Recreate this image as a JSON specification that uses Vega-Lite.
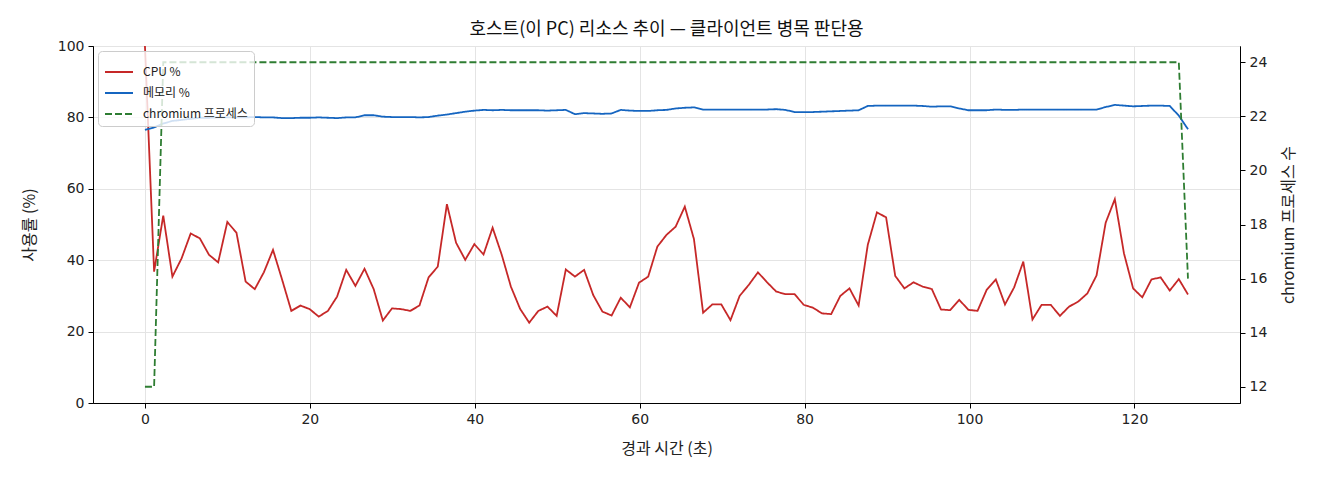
{
  "$schema": "https://vega.github.io/schema/vega-lite/v6.json",
  "description": "호스트 리소스 추이: CPU, 메모리, chromium 프로세스 수",
  "autosize": {"type": "none"},
  "width": 1147,
  "height": 357,
  "padding": {"left": 93, "top": 46, "right": 80, "bottom": 77},
  "background": "white",
  "view": {"stroke": "black", "strokeWidth": 1},
  "title": {
    "text": "호스트(이 PC) 리소스 추이 — 클라이언트 병목 판단용",
    "fontSize": 18,
    "fontWeight": "normal",
    "font": "Noto Sans CJK KR",
    "color": "#111",
    "anchor": "middle",
    "offset": 0
  },
  "config": {
    "view": {"stroke": "black", "strokeWidth": 1},
    "axis": {
      "labelFont": "DejaVu Sans",
      "labelFontSize": 14,
      "labelColor": "#222",
      "titleFont": "Noto Sans CJK KR",
      "titleFontSize": 16,
      "titleFontWeight": "normal",
      "titleColor": "#222",
      "domainColor": "black",
      "tickColor": "black",
      "tickSize": 5,
      "gridColor": "#e4e4e4",
      "gridWidth": 1
    },
    "legend": {
      "orient": "top-left",
      "offset": 5,
      "title": null,
      "labelFont": "Noto Sans CJK KR",
      "labelFontSize": 12,
      "labelColor": "#222",
      "labelOffset": 9,
      "fillColor": "rgba(255,255,255,0.8)",
      "strokeColor": "#cccccc",
      "cornerRadius": 4,
      "padding": 6,
      "rowPadding": -5,
      "symbolType": "stroke",
      "symbolSize": 784,
      "symbolStrokeWidth": 2
    }
  },
  "data": {
    "values": [
      {"t": 0, "CPU %": 100, "메모리 %": 76.5, "chromium 프로세스": 12},
      {"t": 1.11, "CPU %": 36.8, "메모리 %": 77.2, "chromium 프로세스": 12},
      {"t": 2.22, "CPU %": 52.5, "메모리 %": 78.3, "chromium 프로세스": 24},
      {"t": 3.33, "CPU %": 35.4, "메모리 %": 79.0, "chromium 프로세스": 24},
      {"t": 4.44, "CPU %": 40.5, "메모리 %": 79.3, "chromium 프로세스": 24},
      {"t": 5.55, "CPU %": 47.5, "메모리 %": 79.6, "chromium 프로세스": 24},
      {"t": 6.66, "CPU %": 46.1, "메모리 %": 79.9, "chromium 프로세스": 24},
      {"t": 7.77, "CPU %": 41.5, "메모리 %": 79.9, "chromium 프로세스": 24},
      {"t": 8.88, "CPU %": 39.4, "메모리 %": 80.0, "chromium 프로세스": 24},
      {"t": 9.99, "CPU %": 50.7, "메모리 %": 80.0, "chromium 프로세스": 24},
      {"t": 11.10, "CPU %": 47.7, "메모리 %": 80.0, "chromium 프로세스": 24},
      {"t": 12.21, "CPU %": 34.0, "메모리 %": 80.0, "chromium 프로세스": 24},
      {"t": 13.32, "CPU %": 31.9, "메모리 %": 80.1, "chromium 프로세스": 24},
      {"t": 14.42, "CPU %": 36.6, "메모리 %": 80.0, "chromium 프로세스": 24},
      {"t": 15.53, "CPU %": 42.9, "메모리 %": 80.0, "chromium 프로세스": 24},
      {"t": 16.64, "CPU %": 34.5, "메모리 %": 79.8, "chromium 프로세스": 24},
      {"t": 17.75, "CPU %": 25.8, "메모리 %": 79.8, "chromium 프로세스": 24},
      {"t": 18.86, "CPU %": 27.3, "메모리 %": 79.9, "chromium 프로세스": 24},
      {"t": 19.97, "CPU %": 26.3, "메모리 %": 79.9, "chromium 프로세스": 24},
      {"t": 21.08, "CPU %": 24.2, "메모리 %": 80.0, "chromium 프로세스": 24},
      {"t": 22.19, "CPU %": 25.8, "메모리 %": 79.9, "chromium 프로세스": 24},
      {"t": 23.30, "CPU %": 29.8, "메모리 %": 79.8, "chromium 프로세스": 24},
      {"t": 24.41, "CPU %": 37.3, "메모리 %": 80.0, "chromium 프로세스": 24},
      {"t": 25.52, "CPU %": 32.8, "메모리 %": 80.0, "chromium 프로세스": 24},
      {"t": 26.63, "CPU %": 37.6, "메모리 %": 80.6, "chromium 프로세스": 24},
      {"t": 27.74, "CPU %": 31.9, "메모리 %": 80.6, "chromium 프로세스": 24},
      {"t": 28.85, "CPU %": 23.1, "메모리 %": 80.2, "chromium 프로세스": 24},
      {"t": 29.96, "CPU %": 26.5, "메모리 %": 80.1, "chromium 프로세스": 24},
      {"t": 31.07, "CPU %": 26.3, "메모리 %": 80.1, "chromium 프로세스": 24},
      {"t": 32.18, "CPU %": 25.8, "메모리 %": 80.1, "chromium 프로세스": 24},
      {"t": 33.29, "CPU %": 27.3, "메모리 %": 80.0, "chromium 프로세스": 24},
      {"t": 34.40, "CPU %": 35.2, "메모리 %": 80.1, "chromium 프로세스": 24},
      {"t": 35.51, "CPU %": 38.2, "메모리 %": 80.5, "chromium 프로세스": 24},
      {"t": 36.62, "CPU %": 55.7, "메모리 %": 80.8, "chromium 프로세스": 24},
      {"t": 37.73, "CPU %": 44.9, "메모리 %": 81.2, "chromium 프로세스": 24},
      {"t": 38.84, "CPU %": 40.1, "메모리 %": 81.6, "chromium 프로세스": 24},
      {"t": 39.95, "CPU %": 44.5, "메모리 %": 81.9, "chromium 프로세스": 24},
      {"t": 41.06, "CPU %": 41.6, "메모리 %": 82.1, "chromium 프로세스": 24},
      {"t": 42.16, "CPU %": 49.1, "메모리 %": 82.0, "chromium 프로세스": 24},
      {"t": 43.27, "CPU %": 41.5, "메모리 %": 82.1, "chromium 프로세스": 24},
      {"t": 44.38, "CPU %": 32.6, "메모리 %": 82.0, "chromium 프로세스": 24},
      {"t": 45.49, "CPU %": 26.4, "메모리 %": 82.0, "chromium 프로세스": 24},
      {"t": 46.60, "CPU %": 22.5, "메모리 %": 82.0, "chromium 프로세스": 24},
      {"t": 47.71, "CPU %": 25.8, "메모리 %": 82.0, "chromium 프로세스": 24},
      {"t": 48.82, "CPU %": 27.0, "메모리 %": 81.9, "chromium 프로세스": 24},
      {"t": 49.93, "CPU %": 24.4, "메모리 %": 82.0, "chromium 프로세스": 24},
      {"t": 51.04, "CPU %": 37.4, "메모리 %": 82.1, "chromium 프로세스": 24},
      {"t": 52.15, "CPU %": 35.4, "메모리 %": 80.9, "chromium 프로세스": 24},
      {"t": 53.26, "CPU %": 37.3, "메모리 %": 81.2, "chromium 프로세스": 24},
      {"t": 54.37, "CPU %": 30.2, "메모리 %": 81.1, "chromium 프로세스": 24},
      {"t": 55.48, "CPU %": 25.6, "메모리 %": 81.0, "chromium 프로세스": 24},
      {"t": 56.59, "CPU %": 24.5, "메모리 %": 81.1, "chromium 프로세스": 24},
      {"t": 57.70, "CPU %": 29.5, "메모리 %": 82.1, "chromium 프로세스": 24},
      {"t": 58.81, "CPU %": 26.8, "메모리 %": 81.9, "chromium 프로세스": 24},
      {"t": 59.92, "CPU %": 33.7, "메모리 %": 81.8, "chromium 프로세스": 24},
      {"t": 61.03, "CPU %": 35.4, "메모리 %": 81.8, "chromium 프로세스": 24},
      {"t": 62.14, "CPU %": 43.8, "메모리 %": 82.0, "chromium 프로세스": 24},
      {"t": 63.25, "CPU %": 47.1, "메모리 %": 82.1, "chromium 프로세스": 24},
      {"t": 64.36, "CPU %": 49.4, "메모리 %": 82.5, "chromium 프로세스": 24},
      {"t": 65.47, "CPU %": 55.0, "메모리 %": 82.7, "chromium 프로세스": 24},
      {"t": 66.58, "CPU %": 45.9, "메모리 %": 82.8, "chromium 프로세스": 24},
      {"t": 67.69, "CPU %": 25.3, "메모리 %": 82.2, "chromium 프로세스": 24},
      {"t": 68.80, "CPU %": 27.6, "메모리 %": 82.2, "chromium 프로세스": 24},
      {"t": 69.90, "CPU %": 27.6, "메모리 %": 82.2, "chromium 프로세스": 24},
      {"t": 71.01, "CPU %": 23.2, "메모리 %": 82.2, "chromium 프로세스": 24},
      {"t": 72.12, "CPU %": 30.0, "메모리 %": 82.2, "chromium 프로세스": 24},
      {"t": 73.23, "CPU %": 33.1, "메모리 %": 82.2, "chromium 프로세스": 24},
      {"t": 74.34, "CPU %": 36.6, "메모리 %": 82.2, "chromium 프로세스": 24},
      {"t": 75.45, "CPU %": 33.8, "메모리 %": 82.2, "chromium 프로세스": 24},
      {"t": 76.56, "CPU %": 31.2, "메모리 %": 82.3, "chromium 프로세스": 24},
      {"t": 77.67, "CPU %": 30.5, "메모리 %": 82.1, "chromium 프로세스": 24},
      {"t": 78.78, "CPU %": 30.5, "메모리 %": 81.5, "chromium 프로세스": 24},
      {"t": 79.89, "CPU %": 27.5, "메모리 %": 81.5, "chromium 프로세스": 24},
      {"t": 81.00, "CPU %": 26.7, "메모리 %": 81.5, "chromium 프로세스": 24},
      {"t": 82.11, "CPU %": 25.1, "메모리 %": 81.6, "chromium 프로세스": 24},
      {"t": 83.22, "CPU %": 24.9, "메모리 %": 81.7, "chromium 프로세스": 24},
      {"t": 84.33, "CPU %": 30.0, "메모리 %": 81.8, "chromium 프로세스": 24},
      {"t": 85.44, "CPU %": 32.1, "메모리 %": 81.9, "chromium 프로세스": 24},
      {"t": 86.55, "CPU %": 27.3, "메모리 %": 82.0, "chromium 프로세스": 24},
      {"t": 87.66, "CPU %": 44.3, "메모리 %": 83.2, "chromium 프로세스": 24},
      {"t": 88.77, "CPU %": 53.4, "메모리 %": 83.3, "chromium 프로세스": 24},
      {"t": 89.88, "CPU %": 52.0, "메모리 %": 83.3, "chromium 프로세스": 24},
      {"t": 90.99, "CPU %": 35.6, "메모리 %": 83.3, "chromium 프로세스": 24},
      {"t": 92.10, "CPU %": 32.1, "메모리 %": 83.3, "chromium 프로세스": 24},
      {"t": 93.21, "CPU %": 33.8, "메모리 %": 83.3, "chromium 프로세스": 24},
      {"t": 94.32, "CPU %": 32.6, "메모리 %": 83.2, "chromium 프로세스": 24},
      {"t": 95.43, "CPU %": 31.9, "메모리 %": 83.0, "chromium 프로세스": 24},
      {"t": 96.54, "CPU %": 26.2, "메모리 %": 83.1, "chromium 프로세스": 24},
      {"t": 97.64, "CPU %": 26.0, "메모리 %": 83.1, "chromium 프로세스": 24},
      {"t": 98.75, "CPU %": 28.9, "메모리 %": 82.5, "chromium 프로세스": 24},
      {"t": 99.86, "CPU %": 26.1, "메모리 %": 82.0, "chromium 프로세스": 24},
      {"t": 100.97, "CPU %": 25.8, "메모리 %": 82.0, "chromium 프로세스": 24},
      {"t": 102.08, "CPU %": 31.7, "메모리 %": 82.0, "chromium 프로세스": 24},
      {"t": 103.19, "CPU %": 34.6, "메모리 %": 82.2, "chromium 프로세스": 24},
      {"t": 104.30, "CPU %": 27.6, "메모리 %": 82.1, "chromium 프로세스": 24},
      {"t": 105.41, "CPU %": 32.4, "메모리 %": 82.1, "chromium 프로세스": 24},
      {"t": 106.52, "CPU %": 39.6, "메모리 %": 82.2, "chromium 프로세스": 24},
      {"t": 107.63, "CPU %": 23.4, "메모리 %": 82.2, "chromium 프로세스": 24},
      {"t": 108.74, "CPU %": 27.5, "메모리 %": 82.2, "chromium 프로세스": 24},
      {"t": 109.85, "CPU %": 27.5, "메모리 %": 82.2, "chromium 프로세스": 24},
      {"t": 110.96, "CPU %": 24.4, "메모리 %": 82.2, "chromium 프로세스": 24},
      {"t": 112.07, "CPU %": 27.0, "메모리 %": 82.2, "chromium 프로세스": 24},
      {"t": 113.18, "CPU %": 28.4, "메모리 %": 82.2, "chromium 프로세스": 24},
      {"t": 114.29, "CPU %": 30.7, "메모리 %": 82.2, "chromium 프로세스": 24},
      {"t": 115.40, "CPU %": 35.7, "메모리 %": 82.2, "chromium 프로세스": 24},
      {"t": 116.51, "CPU %": 50.5, "메모리 %": 82.9, "chromium 프로세스": 24},
      {"t": 117.62, "CPU %": 57.1, "메모리 %": 83.5, "chromium 프로세스": 24},
      {"t": 118.73, "CPU %": 41.9, "메모리 %": 83.3, "chromium 프로세스": 24},
      {"t": 119.84, "CPU %": 32.1, "메모리 %": 83.1, "chromium 프로세스": 24},
      {"t": 120.95, "CPU %": 29.6, "메모리 %": 83.2, "chromium 프로세스": 24},
      {"t": 122.06, "CPU %": 34.6, "메모리 %": 83.3, "chromium 프로세스": 24},
      {"t": 123.17, "CPU %": 35.2, "메모리 %": 83.3, "chromium 프로세스": 24},
      {"t": 124.28, "CPU %": 31.5, "메모리 %": 83.2, "chromium 프로세스": 24},
      {"t": 125.38, "CPU %": 34.7, "메모리 %": 80.5, "chromium 프로세스": 24},
      {"t": 126.49, "CPU %": 30.4, "메모리 %": 76.7, "chromium 프로세스": 16}
    ]
  },
  "transform": [
    {"fold": ["CPU %", "메모리 %", "chromium 프로세스"], "as": ["series", "value"]}
  ],
  "encoding": {
    "x": {
      "field": "t",
      "type": "quantitative",
      "scale": {"domain": [-6.3, 132.8], "nice": false, "zero": false},
      "axis": {
        "title": "경과 시간 (초)",
        "values": [0, 20, 40, 60, 80, 100, 120],
        "grid": true,
        "labelPadding": 4,
        "titlePadding": 14
      }
    },
    "color": {
      "field": "series",
      "type": "nominal",
      "scale": {
        "domain": ["CPU %", "메모리 %", "chromium 프로세스"],
        "range": ["#c62828", "#1565c0", "#2e7d32"]
      },
      "legend": {"title": null}
    },
    "strokeDash": {
      "field": "series",
      "type": "nominal",
      "scale": {
        "domain": ["CPU %", "메모리 %", "chromium 프로세스"],
        "range": [[1, 0], [1, 0], [7, 3]]
      },
      "legend": {"title": null}
    }
  },
  "layer": [
    {
      "transform": [{"filter": "datum.series !== 'chromium 프로세스'"}],
      "mark": {"type": "line", "strokeWidth": 1.8, "clip": true},
      "encoding": {
        "y": {
          "field": "value",
          "type": "quantitative",
          "scale": {"domain": [0, 100], "nice": false},
          "axis": {
            "title": "사용률 (%)",
            "orient": "left",
            "values": [0, 20, 40, 60, 80, 100],
            "grid": true,
            "labelPadding": 4,
            "titlePadding": 20
          }
        }
      }
    },
    {
      "transform": [{"filter": "datum.series === 'chromium 프로세스'"}],
      "mark": {"type": "line", "strokeWidth": 1.8, "clip": true},
      "encoding": {
        "y": {
          "field": "value",
          "type": "quantitative",
          "scale": {"domain": [11.4, 24.6], "nice": false, "zero": false},
          "axis": {
            "title": "chromium 프로세스 수",
            "orient": "right",
            "values": [12, 14, 16, 18, 20, 22, 24],
            "grid": false,
            "labelPadding": 4,
            "titleAngle": 270,
            "titleBaseline": "top",
            "titlePadding": 14
          }
        }
      }
    }
  ],
  "resolve": {"scale": {"y": "independent"}, "axis": {"y": "independent"}}
}
